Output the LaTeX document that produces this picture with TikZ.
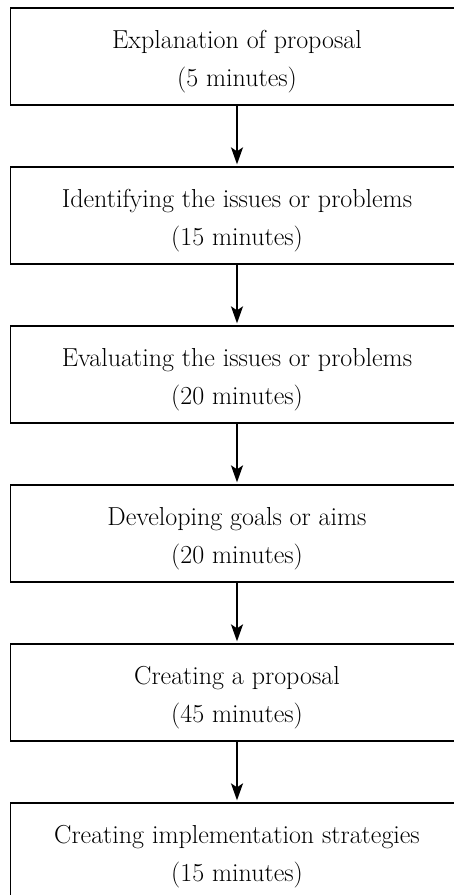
\documentclass[tikz,border=0pt]{standalone}
\usetikzlibrary{arrows.meta}
\begin{document}
\begin{tikzpicture}[x=1pt,y=-1pt,
  stepbox/.style={draw=black,line width=1.3pt,minimum width=453pt,minimum height=97pt,inner sep=0pt},
  steptext/.style={align=center,inner sep=0pt,font=\fontsize{26}{38}\selectfont},
  flowarrow/.style={line width=2pt,-{Stealth[length=17pt,width=12pt,inset=4pt]}}]
\useasboundingbox (0,0) rectangle (454,895);
\node[stepbox] (b1) at (237,56.5) {};
\node[stepbox] (b2) at (237,215.5) {};
\node[stepbox] (b3) at (237,374.5) {};
\node[stepbox] (b4) at (237,533.5) {};
\node[stepbox] (b5) at (237,692.5) {};
\node[stepbox] (b6) at (237,851.5) {};
\node[steptext,anchor=base] (t1) at ([yshift=-29.5pt]b1.center) {Explanation of proposal\\(5 minutes)};
\node[steptext,anchor=base] (t2) at ([yshift=-29.5pt]b2.center) {Identifying the issues or problems\\(15 minutes)};
\node[steptext,anchor=base] (t3) at ([yshift=-29.5pt]b3.center) {Evaluating the issues or problems\\(20 minutes)};
\node[steptext,anchor=base] (t4) at ([yshift=-29.5pt]b4.center) {Developing goals or aims\\(20 minutes)};
\node[steptext,anchor=base] (t5) at ([yshift=-29.5pt]b5.center) {Creating a proposal\\(45 minutes)};
\node[steptext,anchor=base] (t6) at ([yshift=-29.5pt]b6.center) {Creating implementation strategies\\(15 minutes)};
\draw[flowarrow] (b1.south) -- ([yshift=2pt]b2.north);
\draw[flowarrow] (b2.south) -- ([yshift=2pt]b3.north);
\draw[flowarrow] (b3.south) -- ([yshift=2pt]b4.north);
\draw[flowarrow] (b4.south) -- ([yshift=2pt]b5.north);
\draw[flowarrow] (b5.south) -- ([yshift=2pt]b6.north);
\end{tikzpicture}
\end{document}
